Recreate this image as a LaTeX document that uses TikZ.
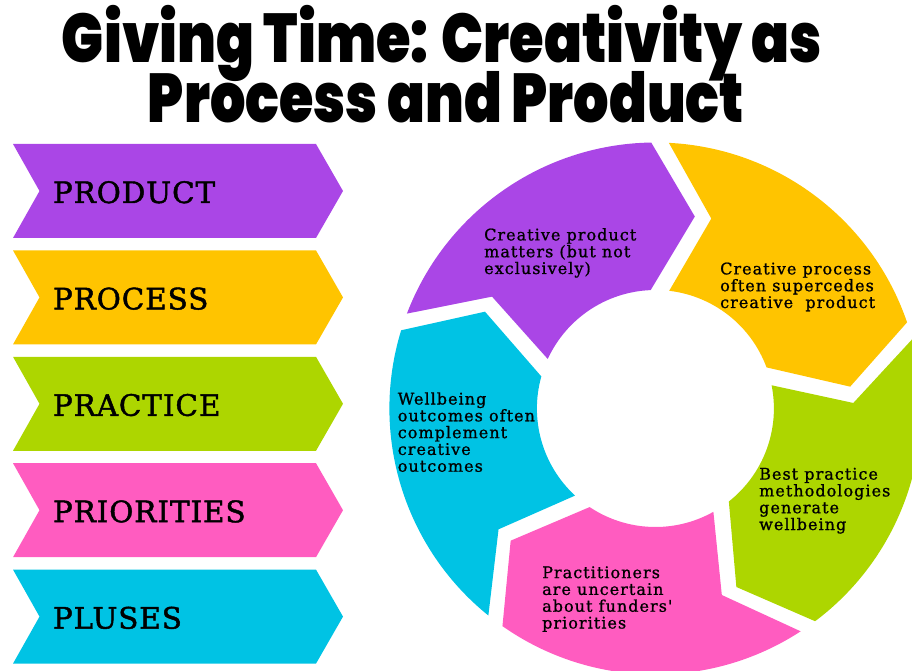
\documentclass[tikz,border=0pt]{standalone}
\usepackage{fontspec}
\usepackage{graphicx}
\setmainfont{DejaVu Serif}
\newfontfamily\titlefont{Poppins Black}
\newfontfamily\bannerfont{DejaVu Serif}[LetterSpace=3,FakeBold=1.5]
\newfontfamily\ringfont{DejaVu Serif}[LetterSpace=6.5,FakeBold=1]

\definecolor{segpurple}{HTML}{AA46E6}
\definecolor{segyellow}{HTML}{FFC400}
\definecolor{seggreen}{HTML}{ADD600}
\definecolor{segpink}{HTML}{FF5CC0}
\definecolor{segcyan}{HTML}{00C3E4}

\begin{document}
\begin{tikzpicture}[x=1pt,y=1pt,
  bannerlabel/.style={anchor=base west, inner sep=0pt,
    font=\bannerfont\fontsize{29.5}{30}\selectfont},
  ringlabel/.style={anchor=base west, inner sep=0pt, align=left,
    font=\ringfont\fontsize{16}{16.8}\selectfont},
  titleline/.style={anchor=base, inner sep=0pt, text depth=0pt,
    font=\titlefont\fontsize{69}{70}\selectfont}]
\useasboundingbox (0,0) rectangle (912,670);
\clip (0,0) rectangle (912,670);

% title
\node[titleline] (title1) at (442,607.3) {\resizebox{760pt}{\height}{Giving Time: Creativity as}};
\node[titleline] (title2) at (446,547) {\resizebox{596pt}{\height}{Process and Product}};

% banner chevrons on the left
\foreach \k/\col/\name/\txt in {0/segpurple/product/PRODUCT,
                                1/segyellow/process/PROCESS,
                                2/seggreen/practice/PRACTICE,
                                3/segpink/priorities/PRIORITIES,
                                4/segcyan/pluses/PLUSES}{
  \pgfmathsetmacro{\top}{526-106.4*\k}
  \pgfmathsetmacro{\mid}{\top-47}
  \pgfmathsetmacro{\bot}{\top-94}
  \fill[\col] (13,\top) -- (316,\top) -- (343,\mid) -- (316,\bot)
              -- (13,\bot) -- (39.5,\mid) -- cycle;
  \node[bannerlabel] (\name) at (52.7,\mid-12) {\txt};
}

% circular ring of five arrow segments, running clockwise
\coordinate (ringc) at (655.4,261.5);
\foreach \i/\col in {0/segpurple,1/segyellow,2/seggreen,3/segpink,4/segcyan}{
  \begin{scope}[shift={(ringc)}, rotate=-72*\i]
    \fill[\col] (159.1:266) arc[start angle=159.1, end angle=90.9, radius=266]
      -- (78.4:196) -- (92.3:118.5)
      arc[start angle=92.3, end angle=155.3, radius=118.5]
      -- (145.6:198) -- cycle;
  \end{scope}
}

% segment texts (anchored at the baseline of their last line)
\node[ringlabel] (txtproduct) at (484,396) {Creative product\\matters (but not\\exclusively)};
\node[ringlabel] (txtprocess) at (720,362) {Creative process\\often supercedes\\creative~ product};
\node[ringlabel] (txtpractice) at (759,140) {Best practice\\methodologies\\generate\\wellbeing};
\node[ringlabel] (txtpriorities) at (542,41.5) {Practitioners\\are uncertain\\about funders'\\priorities};
\node[ringlabel] (txtpluses) at (397.6,198.3) {Wellbeing\\outcomes often\\complement\\creative\\outcomes};
\end{tikzpicture}
\end{document}
